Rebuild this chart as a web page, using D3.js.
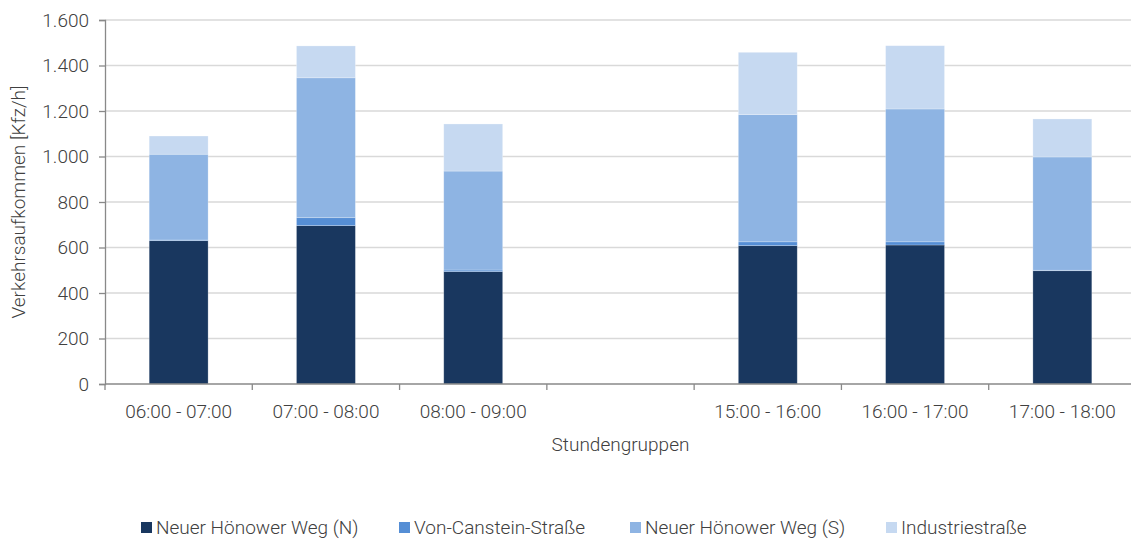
<!DOCTYPE html>
<html><head><meta charset="utf-8">
<script src="https://cdn.jsdelivr.net/npm/d3@7"></script>
<style>body{margin:0;background:#fff;} text{font-family:"Roboto",sans-serif;font-weight:300;fill:#404040;}</style>
</head><body>
<svg id="c" width="1131" height="540"></svg>
<script>
const categories = ["06:00 - 07:00","07:00 - 08:00","08:00 - 09:00","","15:00 - 16:00","16:00 - 17:00","17:00 - 18:00"];
const seriesNames = ["Neuer Hönower Weg (N)","Von-Canstein-Straße","Neuer Hönower Weg (S)","Industriestraße"];
const nordValues = [630, 696, 494, null, 608, 611, 498];
const cansteinValues = [3, 35, 7, null, 17, 14, 2];
const suedValues = [377, 615, 435, null, 559, 584, 498];
const industrieValues = [80, 140, 207, null, 274, 278, 167];
const yTicks = [0,200,400,600,800,1000,1200,1400,1600];
const colors = ["#19375F","#558ED5","#8EB4E3","#C6D9F1"];

const svg = d3.select("#c");
const m = {l:105, r:1136, t:20, b:384};
const x = d3.scaleBand().domain(d3.range(categories.length)).range([m.l, m.r]).paddingInner(0.6).paddingOuter(0.3);
const xb = d3.scaleBand().domain(d3.range(categories.length)).range([m.l, m.r]);
const y = d3.scaleLinear().domain([0,1600]).range([m.b, m.t]);
const fmt = v => d3.format(",")(v).replace(/,/g,".");
const FS = 19;

// gridlines
svg.append("g").selectAll("line").data(yTicks.filter(t=>t>0)).join("line")
  .attr("x1", m.l).attr("x2", 1131).attr("y1", d=>y(d)).attr("y2", d=>y(d))
  .attr("stroke","#D9D9D9").attr("stroke-width",1.3);

const rows = categories.map((c,i)=>({i, v:[nordValues[i],cansteinValues[i],suedValues[i],industrieValues[i]]}));
rows.forEach(r=>{
  if (r.v[0]==null) return;
  let acc = 0;
  r.v.forEach((v,k)=>{
    svg.append("rect").attr("x", x(r.i)).attr("width", x.bandwidth())
      .attr("y", y(acc+v)).attr("height", y(acc)-y(acc+v))
      .attr("fill", colors[k]).attr("stroke","rgba(255,255,255,0.35)").attr("stroke-width",0.7);
    acc += v;
  });
});

// y axis
const ya = svg.append("g").attr("transform",`translate(${m.l},0)`)
  .call(d3.axisLeft(y).tickValues(yTicks).tickFormat(fmt).tickSize(6).tickPadding(10));
ya.select(".domain").attr("stroke","#898989").attr("stroke-width",1.3);
ya.selectAll(".tick line").attr("stroke","#898989").attr("stroke-width",1.3);
ya.selectAll("text").attr("font-size",FS).attr("fill","#404040").style("font-family","Roboto,sans-serif").style("font-weight",300);

// x axis
svg.append("line").attr("x1",m.l).attr("x2",1131).attr("y1",m.b).attr("y2",m.b).attr("stroke","#898989").attr("stroke-width",1.3);
const bounds = d3.range(categories.length+1).map(i=> i<categories.length ? xb(i) : m.r);
svg.append("g").selectAll("line").data(bounds.filter(b=>b<1131)).join("line")
  .attr("x1",d=>d).attr("x2",d=>d).attr("y1",m.b).attr("y2",m.b+6).attr("stroke","#898989").attr("stroke-width",1.3);
svg.append("g").selectAll("text").data(categories).join("text")
  .attr("x",(d,i)=>xb(i)+xb.bandwidth()/2).attr("y",418).attr("text-anchor","middle")
  .attr("font-size",FS).text(d=>d);

// axis titles
svg.append("text").attr("x",(m.l+m.r)/2).attr("y",451).attr("text-anchor","middle").attr("font-size",FS).text("Stundengruppen");
svg.append("text").attr("transform",`translate(25,${(m.t+m.b)/2}) rotate(-90)`).attr("text-anchor","middle").attr("font-size",FS).text("Verkehrsaufkommen [Kfz/h]");

// legend
const legX = [141, 399, 630, 886];
seriesNames.forEach((n,k)=>{
  svg.append("rect").attr("x",legX[k]).attr("y",522).attr("width",11).attr("height",11).attr("fill",colors[k]);
  svg.append("text").attr("x",legX[k]+15).attr("y",534).attr("font-size",FS).text(n);
});
</script>
</body></html>
